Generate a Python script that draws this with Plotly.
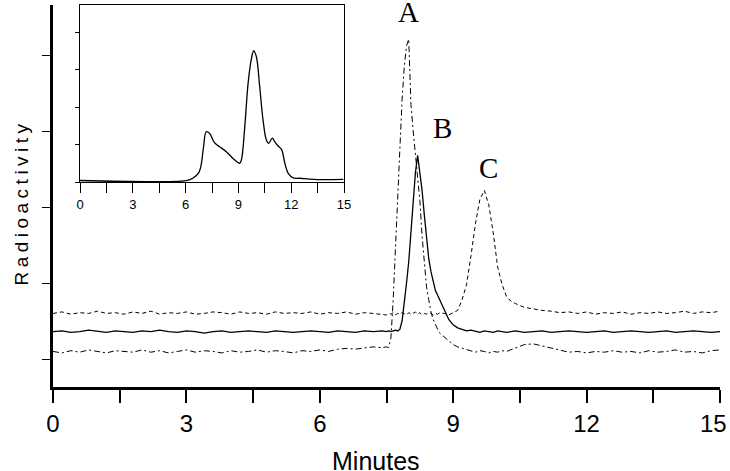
import plotly.graph_objects as go

# --- datos ---
minutos = [
    0.0, 0.2, 0.4, 0.6, 0.8, 1.0, 1.2, 1.4, 1.6, 1.8, 2.0, 2.2, 2.4, 2.6, 2.8, 3.0, 3.2, 3.4, 3.6,
    3.8, 4.0, 4.2, 4.4, 4.6, 4.8, 5.0, 5.2, 5.4, 5.6, 5.8, 6.0, 6.2, 6.4, 6.6, 6.8, 7.0, 7.2, 7.4,
    7.5, 7.55, 7.6, 7.65, 7.7, 7.75, 7.8, 7.85, 7.9, 7.95, 8.0, 8.05, 8.1, 8.15, 8.2, 8.25, 8.3,
    8.35, 8.4, 8.45, 8.5, 8.55, 8.6, 8.65, 8.7,
    8.8, 8.9, 9.0, 9.1, 9.2, 9.3, 9.4, 9.5, 9.6, 9.7, 9.8, 9.9, 10.0, 10.1, 10.2, 10.3, 10.4, 10.5, 10.6,
    10.8, 11.0, 11.2, 11.4, 11.6, 11.8, 12.0, 12.2, 12.4, 12.6, 12.8, 13.0, 13.2, 13.4, 13.6, 13.8,
    14.0, 14.2, 14.4, 14.6, 14.8, 15.0,
]

pico_a = [
    110, 108, 111, 109, 112, 110, 108, 111, 110, 109, 112, 109, 111, 108, 110, 112, 109, 111, 110,
    108, 111, 109, 110, 112, 109, 111, 110, 108, 111, 110, 112, 110, 113, 114, 113, 115, 116, 115,
    116, 115, 128, 178, 245, 320, 385, 441, 485, 512, 521, 435, 400, 370, 340, 309, 262,
    225, 195, 178, 162, 152, 145, 139, 134,
    129, 124, 119, 116, 114, 112, 111, 109, 111, 110, 108, 110, 109, 111, 110, 112, 114, 116, 119,
    120, 117, 114, 111, 109, 110, 108, 110, 109, 111, 109, 110, 108, 111, 109, 110,
    112, 109, 110, 108, 111, 112,
]

pico_b = [
    136, 137, 135, 136, 138, 136, 135, 137, 136, 135, 137, 136, 138, 136, 135, 137, 136, 134, 136,
    137, 135, 136, 137, 136, 135, 137, 136, 135, 136, 137, 136, 135, 137, 136, 135, 137, 136, 137,
    136, 137, 136, 137, 138, 137, 139, 150, 172, 200, 228, 270, 309, 345, 368, 345, 322,
    290, 258, 232, 215, 200, 190, 184, 178,
    165, 152, 145, 141, 139, 137, 138, 136, 135, 137, 136, 135, 137, 136, 135, 136, 137, 136, 135,
    136, 137, 135, 136, 137, 136, 135, 136, 137, 135, 136, 137, 136, 135, 136, 137,
    135, 136, 137, 136, 135, 136,
]

pico_c = [
    160, 162, 159, 161, 160, 163, 160, 161, 159, 162, 160, 163, 159, 161, 160, 162, 159, 160, 162,
    161, 159, 162, 160, 161, 159, 162, 160, 161, 160, 162, 159, 161, 160, 162, 159, 161, 160, 159,
    158, 160, 159, 161, 158, 160, 159, 161, 160, 158, 161, 159, 160, 162, 159, 161, 158,
    160, 159, 161, 160, 158, 160, 159, 161,
    160, 158, 161, 164, 178, 198, 236, 278, 310, 322, 303, 266, 221, 198, 182, 176, 173, 170, 168,
    166, 164, 163, 161, 162, 160, 162, 159, 161, 160, 162, 159, 161, 160, 162, 160,
    161, 163, 160, 162, 161, 163,
]

# recuadro (inset)
inset_min = [
    0.0, 6.03, 6.41, 6.75, 6.88, 7.02, 7.17, 7.36, 7.64, 7.93, 8.31, 8.69, 9.07, 9.17, 9.36, 9.55,
    9.74, 9.87, 10.02, 10.21, 10.40, 10.59, 10.72, 10.93, 11.07, 11.26, 11.45, 11.64, 11.83, 12.12,
    12.49, 13.25, 14.96,
]
inset_val = [
    0.04, 0.04, 0.10, 0.25, 0.45, 0.94, 1.34, 1.30, 1.05, 0.94, 0.81, 0.63, 0.50, 0.59, 1.47, 2.63,
    3.29, 3.50, 3.34, 2.54, 1.65, 1.12, 1.03, 1.17, 1.07, 0.96, 0.87, 0.50, 0.23, 0.11,
    0.10, 0.07, 0.07,
]

etiquetas = ["A", "B", "C"]
ticks_x = [0, 1.5, 3, 4.5, 6, 7.5, 9, 10.5, 12, 13.5, 15]
ticks_x_txt = ["0", "", "3", "", "6", "", "9", "", "12", "", "15\u00a0\u00a0"]
ticks_x2_txt = ["0", "", "3", "", "6", "", "9", "", "12", "", "15"]

fig = go.Figure()
fig.add_trace(go.Scatter(x=minutos, y=pico_a, mode="lines",
                         line=dict(color="black", width=1, dash="6px,3px,2px,3px")))
fig.add_trace(go.Scatter(x=minutos, y=pico_b, mode="lines",
                         line=dict(color="black", width=1.3)))
fig.add_trace(go.Scatter(x=minutos, y=pico_c, mode="lines",
                         line=dict(color="black", width=1, dash="4px,3px")))
fig.add_trace(go.Scatter(x=inset_min, y=inset_val, mode="lines", line_shape="spline",
                         line=dict(color="black", width=1.3), xaxis="x2", yaxis="y2"))

# etiquetas de los picos
picos = [(pico_a, 0.0, 36), (pico_b, 0.55, 36), (pico_c, 0.1, 30)]
anots = []
for txt, (serie, dx, dy) in zip(etiquetas, picos):
    i = serie.index(max(serie))
    anots.append(dict(x=minutos[i] + dx, y=max(serie) + dy, xref="x", yref="y",
                      text=txt, showarrow=False, yanchor="middle",
                      font=dict(family="Liberation Serif", size=29, color="black")))

anots.append(dict(x=-0.066, y=0.484, xref="paper", yref="paper", textangle=-90,
                  text="<span style='letter-spacing:4.5px'>Radioactivity</span>", showarrow=False,
                  font=dict(family="Liberation Sans", size=19, color="black")))
anots.append(dict(x=0.485, y=-0.194, xref="paper", yref="paper", yanchor="middle",
                  text="Minutes", showarrow=False,
                  font=dict(family="Liberation Sans", size=25, color="black")))

fig.update_layout(
    width=730, height=471,
    paper_bgcolor="white", plot_bgcolor="white",
    margin=dict(l=53, r=10, t=5, b=84),
    showlegend=False,
    font=dict(family="Liberation Sans", color="black"),
    annotations=anots,
    xaxis=dict(
        range=[0, 15], showgrid=False, zeroline=False, automargin=False,
        showline=True, linewidth=2.5, linecolor="black",
        tickvals=ticks_x, ticktext=ticks_x_txt, ticklabeloverflow="allow",
        ticks="outside", ticklen=13, tickwidth=1.5, tickcolor="black",
        tickfont=dict(size=24),
    ),
    yaxis=dict(
        range=[63.2, 565.9], showgrid=False, zeroline=False, automargin=False,
        showline=True, linewidth=2.5, linecolor="black",
        tickvals=[100, 200, 300, 400, 500], showticklabels=False,
        ticks="outside", ticklen=8, tickwidth=1.3, tickcolor="black",
    ),
    xaxis2=dict(
        domain=[0.0405, 0.4363], anchor="y2", range=[0, 15],
        showgrid=False, zeroline=False, automargin=False,
        showline=True, mirror=True, linewidth=1.2, linecolor="black",
        tickvals=ticks_x, ticktext=ticks_x2_txt,
        ticks="outside", ticklen=10, tickwidth=1, tickcolor="black",
        tickfont=dict(size=13),
    ),
    yaxis2=dict(
        domain=[0.5366, 1.0], anchor="x2", range=[0, 4.72],
        showgrid=False, zeroline=False, automargin=False,
        showline=True, mirror=True, linewidth=1.2, linecolor="black",
        tickvals=[0, 1, 2, 3, 4], showticklabels=False,
        ticks="outside", ticklen=4, tickwidth=1, tickcolor="black",
    ),
)

# sin margen del body para que la figura ocupe toda la ventana
fig.write_html("out.html", config={"displayModeBar": False},
               post_script="document.body.style.margin='0';")
